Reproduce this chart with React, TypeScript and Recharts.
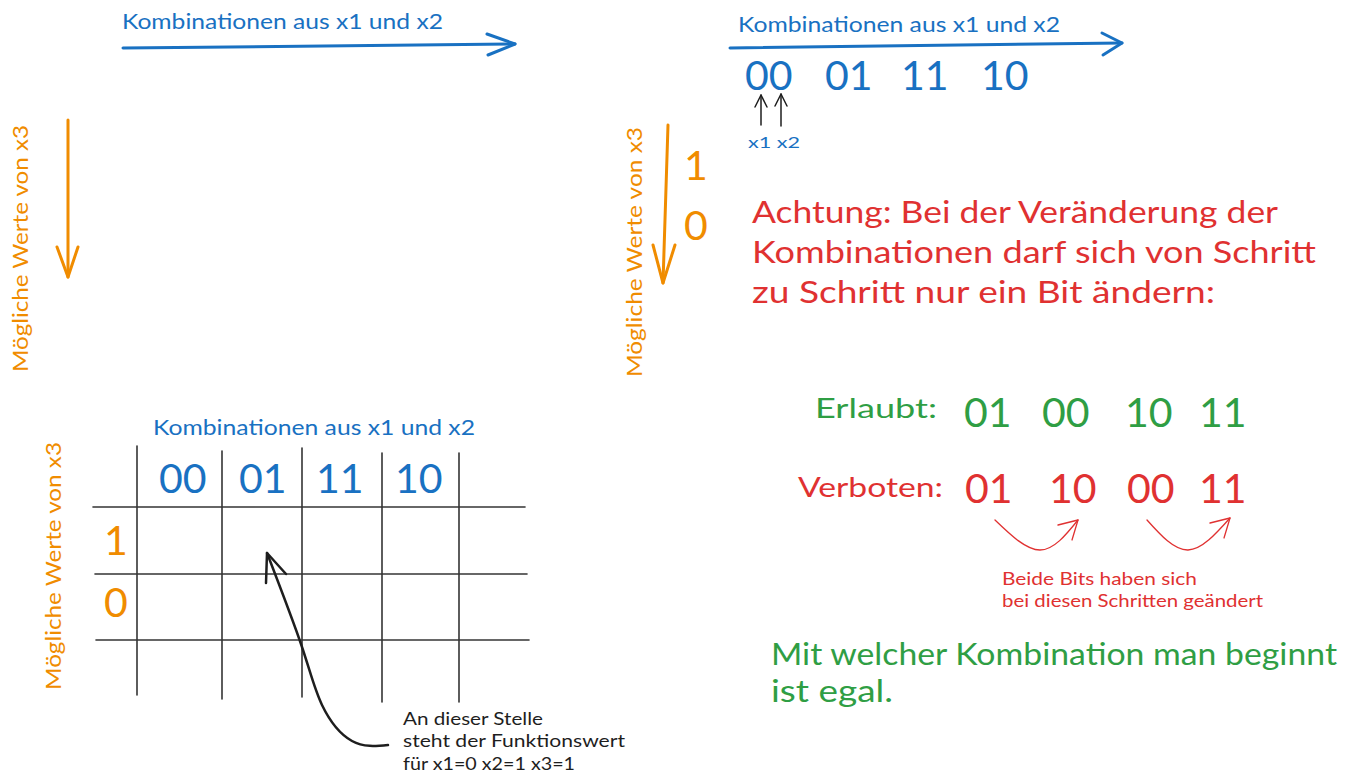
import { ComposedChart, Line, Scatter, XAxis, YAxis } from "recharts";

const WIDTH = 1358;
const HEIGHT = 774;

type Pt = { x: number; y: number };
type Note = { x: number; y: number; text: string; w?: number };

const p = (x: number, y: number): Pt => ({ x, y });

// ---- strokes (diagram coordinates) ----
const blueShaftLeft = [p(123, 48), p(515, 44)];
const blueHeadLeft = [p(487, 34), p(515, 44), p(488, 55)];
const blueShaftRight = [p(730, 48), p(1122, 43)];
const blueHeadRight = [p(1102, 33), p(1122, 43), p(1103, 55)];

const orangeShaftLeft = [p(68, 120), p(68, 277)];
const orangeHeadLeft = [p(57, 247), p(68, 277), p(78, 247)];
const orangeShaftRight = [p(668, 125), p(663, 283)];
const orangeHeadRight = [p(653, 245), p(663, 283), p(675, 245)];

const bitArrowX1 = [p(761, 125), p(761, 95)];
const bitHeadX1 = [p(755, 107), p(761, 95), p(767, 107)];
const bitArrowX2 = [p(781, 126), p(781, 94)];
const bitHeadX2 = [p(775, 106), p(781, 94), p(787, 106)];

const gridVertical = [
  [p(137, 446), p(137, 695)],
  [p(222, 451), p(222, 699)],
  [p(302, 448), p(302, 697)],
  [p(382, 453), p(382, 702)],
  [p(459, 453), p(459, 702)],
];
const gridHorizontal = [
  [p(93, 507), p(525, 507)],
  [p(95, 574), p(527, 574)],
  [p(96, 640), p(529, 640)],
];

const pointerCurve = [p(388, 745), p(352, 741), p(322, 705), p(302, 647), p(267, 553)];
const pointerHead = [p(266, 583), p(267, 553), p(286, 574)];

const redCurveA = [p(995, 520), p(1040, 550), p(1078, 520)];
const redHeadA = [p(1058, 525), p(1078, 520), p(1072, 540)];
const redCurveB = [p(1147, 520), p(1188, 550), p(1230, 518)];
const redHeadB = [p(1210, 523), p(1230, 518), p(1224, 538)];

// ---- texts ----
const axisTitles: Note[] = [
  { x: 122, y: 29, text: "Kombinationen aus x1 und x2", w: 321 },
  { x: 738, y: 32, text: "Kombinationen aus x1 und x2", w: 322 },
  { x: 153, y: 435, text: "Kombinationen aus x1 und x2", w: 322 },
];
const sideTitles: Note[] = [
  { x: 28, y: 372, text: "Mögliche Werte von x3", w: 247 },
  { x: 642, y: 377, text: "Mögliche Werte von x3", w: 250 },
  { x: 61, y: 690, text: "Mögliche Werte von x3", w: 248 },
];
const combosTop: Note[] = [
  { x: 745, y: 90, text: "00" },
  { x: 825, y: 90, text: "01" },
  { x: 901, y: 90, text: "11" },
  { x: 981, y: 90, text: "10" },
];
const combosGrid: Note[] = [
  { x: 159, y: 493, text: "00" },
  { x: 239, y: 493, text: "01" },
  { x: 316, y: 493, text: "11" },
  { x: 395, y: 493, text: "10" },
];
const x3Values: Note[] = [
  { x: 684, y: 180, text: "1" },
  { x: 684, y: 240, text: "0" },
  { x: 104, y: 555, text: "1" },
  { x: 104, y: 617, text: "0" },
];
const bitLabels: Note[] = [{ x: 748, y: 148, text: "x1 x2", w: 52 }];
const warning: Note[] = [
  { x: 752, y: 223, text: "Achtung: Bei der Veränderung der", w: 526 },
  { x: 752, y: 263, text: "Kombinationen darf sich von Schritt", w: 564 },
  { x: 752, y: 303, text: "zu Schritt nur ein Bit ändern:", w: 463 },
];
const allowedLabel: Note[] = [{ x: 815, y: 418, text: "Erlaubt:", w: 122 }];
const allowedCombos: Note[] = [
  { x: 964, y: 427, text: "01" },
  { x: 1042, y: 427, text: "00" },
  { x: 1125, y: 427, text: "10" },
  { x: 1199, y: 427, text: "11" },
];
const forbiddenLabel: Note[] = [{ x: 798, y: 497, text: "Verboten:", w: 145 }];
const forbiddenCombos: Note[] = [
  { x: 965, y: 503, text: "01" },
  { x: 1049, y: 503, text: "10" },
  { x: 1127, y: 503, text: "00" },
  { x: 1199, y: 503, text: "11" },
];
const bitsNote: Note[] = [
  { x: 1002, y: 585, text: "Beide Bits haben sich", w: 195 },
  { x: 1002, y: 607, text: "bei diesen Schritten geändert", w: 261 },
];
const startNote: Note[] = [
  { x: 771, y: 665, text: "Mit welcher Kombination man beginnt", w: 566 },
  { x: 771, y: 702, text: "ist egal.", w: 122 },
];
const pointerNote: Note[] = [
  { x: 403, y: 725, text: "An dieser Stelle", w: 140 },
  { x: 403, y: 747, text: "steht der Funktionswert", w: 222 },
  { x: 403, y: 770, text: "für x1=0 x2=1 x3=1", w: 172 },
];

const BLUE = "#1971c2";
const ORANGE = "#f08c00";
const RED = "#e03131";
const GREEN = "#2f9e44";
const INK = "#1e1e1e";

const HAND = "Lato, 'Noto Sans', sans-serif";
const DIGIT = "Lato, 'Noto Sans', sans-serif";

type Stroke = { data: Pt[]; color: string; width: number; curve?: boolean };

const strokes: Stroke[] = [
  { data: blueShaftLeft, color: BLUE, width: 3 },
  { data: blueHeadLeft, color: BLUE, width: 3 },
  { data: blueShaftRight, color: BLUE, width: 3 },
  { data: blueHeadRight, color: BLUE, width: 3 },
  { data: orangeShaftLeft, color: ORANGE, width: 3 },
  { data: orangeHeadLeft, color: ORANGE, width: 3 },
  { data: orangeShaftRight, color: ORANGE, width: 3 },
  { data: orangeHeadRight, color: ORANGE, width: 3 },
  { data: bitArrowX1, color: INK, width: 1.5 },
  { data: bitHeadX1, color: INK, width: 1.5 },
  { data: bitArrowX2, color: INK, width: 1.5 },
  { data: bitHeadX2, color: INK, width: 1.5 },
  ...gridVertical.map((d) => ({ data: d, color: "#343434", width: 1.6 })),
  ...gridHorizontal.map((d) => ({ data: d, color: "#343434", width: 1.6 })),
  { data: pointerCurve, color: INK, width: 2.5, curve: true },
  { data: pointerHead, color: INK, width: 2.5 },
  { data: redCurveA, color: RED, width: 1.3, curve: true },
  { data: redHeadA, color: RED, width: 1.3 },
  { data: redCurveB, color: RED, width: 1.3, curve: true },
  { data: redHeadB, color: RED, width: 1.3 },
];

type TextStyle = { color: string; size: number; font: string; rotate?: boolean; weight?: number };

const textGroups: { data: Note[]; style: TextStyle }[] = [
  { data: axisTitles, style: { color: BLUE, size: 21, font: HAND } },
  { data: sideTitles, style: { color: ORANGE, size: 21, font: HAND, rotate: true } },
  { data: combosTop, style: { color: BLUE, size: 41, font: DIGIT } },
  { data: combosGrid, style: { color: BLUE, size: 41, font: DIGIT } },
  { data: x3Values, style: { color: ORANGE, size: 41, font: DIGIT } },
  { data: bitLabels, style: { color: BLUE, size: 15, font: HAND } },
  { data: warning, style: { color: RED, size: 31, font: HAND } },
  { data: allowedLabel, style: { color: GREEN, size: 26, font: HAND } },
  { data: allowedCombos, style: { color: GREEN, size: 41, font: DIGIT } },
  { data: forbiddenLabel, style: { color: RED, size: 26, font: HAND } },
  { data: forbiddenCombos, style: { color: RED, size: 41, font: DIGIT } },
  { data: bitsNote, style: { color: RED, size: 17, font: HAND } },
  { data: startNote, style: { color: GREEN, size: 31, font: HAND } },
  { data: pointerNote, style: { color: INK, size: 17, font: HAND } },
];

const makeTextShape = (style: TextStyle) => (props: any) => {
  const { cx, cy, payload } = props;
  return (
    <text
      x={cx}
      y={cy}
      fill={style.color}
      fontSize={style.size}
      fontFamily={style.font}
      fontWeight={style.weight ?? 400}
      textLength={payload.w}
      lengthAdjust={payload.w ? "spacingAndGlyphs" : undefined}
      transform={style.rotate ? `rotate(-90 ${cx} ${cy})` : undefined}
    >
      {payload.text}
    </text>
  );
};

export default function App() {
  return (
    <div style={{ position: "absolute", left: 0, top: 0, width: WIDTH, height: HEIGHT, background: "#fff" }}>
      <ComposedChart width={WIDTH} height={HEIGHT} margin={{ top: 0, right: 0, bottom: 0, left: 0 }}>
        <XAxis type="number" dataKey="x" domain={[0, WIDTH]} allowDataOverflow hide />
        <YAxis type="number" dataKey="y" domain={[0, HEIGHT]} allowDataOverflow reversed hide width={0} />

        {strokes.map((s, i) => (
          <Line
            key={`s${i}`}
            data={s.data}
            dataKey="y"
            type={s.curve ? "natural" : "linear"}
            stroke={s.color}
            strokeWidth={s.width}
            strokeLinecap="round"
            strokeLinejoin="round"
            dot={false}
            activeDot={false}
            isAnimationActive={false}
          />
        ))}

        {textGroups.map((g, i) => (
          <Scatter
            key={`t${i}`}
            data={g.data}
            shape={makeTextShape(g.style)}
            isAnimationActive={false}
          />
        ))}
      </ComposedChart>
    </div>
  );
}
